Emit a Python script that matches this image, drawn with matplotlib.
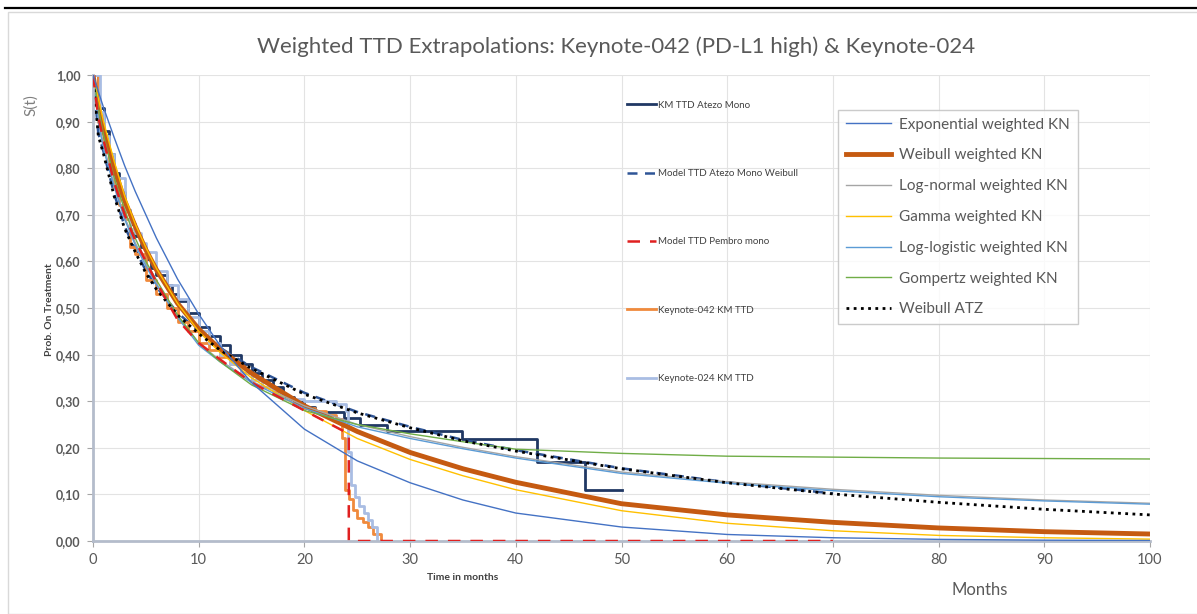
import matplotlib.pyplot as plt
from matplotlib.lines import Line2D
from matplotlib.patches import Rectangle

# Data
months = [0, 0.5, 1, 2, 3, 4, 5, 6, 8, 10, 12, 15, 20, 25, 30, 35, 40, 50, 60, 70, 80, 90, 100]

exponential_kn = [1.0, 0.965, 0.93, 0.866, 0.805, 0.75, 0.70, 0.65, 0.562, 0.487, 0.42, 0.34, 0.24,
                  0.172, 0.125, 0.088, 0.06, 0.03, 0.014, 0.007, 0.0035, 0.0018, 0.001]
weibull_kn = [1.0, 0.93, 0.88, 0.80, 0.73, 0.675, 0.625, 0.582, 0.51, 0.455, 0.412, 0.36, 0.29,
              0.235, 0.19, 0.155, 0.126, 0.08, 0.056, 0.04, 0.028, 0.02, 0.015]
lognormal_kn = [1.0, 0.91, 0.85, 0.765, 0.695, 0.64, 0.595, 0.553, 0.483, 0.425, 0.388, 0.343, 0.29,
                0.25, 0.224, 0.201, 0.181, 0.148, 0.127, 0.111, 0.098, 0.088, 0.081]
gamma_kn = [1.0, 0.95, 0.90, 0.815, 0.74, 0.68, 0.63, 0.585, 0.51, 0.45, 0.405, 0.35, 0.28,
            0.22, 0.175, 0.14, 0.11, 0.065, 0.038, 0.022, 0.012, 0.007, 0.004]
loglogistic_kn = [1.0, 0.90, 0.84, 0.76, 0.69, 0.635, 0.59, 0.55, 0.48, 0.42, 0.385, 0.34, 0.285,
                  0.245, 0.22, 0.198, 0.178, 0.145, 0.124, 0.108, 0.095, 0.086, 0.079]
gompertz_kn = [1.0, 0.93, 0.87, 0.78, 0.71, 0.65, 0.60, 0.56, 0.485, 0.425, 0.385, 0.335, 0.28,
               0.25, 0.23, 0.213, 0.197, 0.188, 0.182, 0.18, 0.178, 0.177, 0.176]
weibull_atz = [1.0, 0.87, 0.83, 0.74, 0.67, 0.62, 0.575, 0.54, 0.485, 0.445, 0.41, 0.37, 0.315,
               0.275, 0.243, 0.215, 0.193, 0.155, 0.125, 0.101, 0.083, 0.068, 0.056]

# second chart (model curves only run to 70 months)
model_months = [0, 0.5, 1, 2, 3, 4, 5, 6, 8, 10, 12, 15, 20, 25, 30, 35, 40, 50, 60, 70]
model_atezo_weibull = [1.0, 0.875, 0.835, 0.745, 0.675, 0.625, 0.58, 0.545, 0.49, 0.45, 0.415, 0.373,
                       0.318, 0.277, 0.245, 0.217, 0.195, 0.156, 0.126, 0.102]

pembro_months = [0, 0.5, 1, 2, 3, 4, 5, 6, 8, 10, 12, 15, 20, 24.2, 24.2, 30, 40, 50, 60, 70]
model_pembro = [1.0, 0.91, 0.86, 0.77, 0.70, 0.645, 0.60, 0.555, 0.475, 0.425, 0.39, 0.34, 0.28,
                0.23, 0.0, 0.0, 0.0, 0.0, 0.0, 0.0]

km_atezo_t = [0, 0.5, 1, 1.5, 2, 2.5, 3, 3.5, 4, 4.5, 5, 5.5, 6, 7, 7.5, 8, 9, 10, 11, 12, 13, 14,
              15, 16, 17, 18, 19, 20, 21, 23.7, 25.3, 27.8, 34.9, 42, 46.5, 50]
km_atezo_s = [1.0, 0.93, 0.88, 0.83, 0.79, 0.75, 0.71, 0.68, 0.655, 0.63, 0.605, 0.585, 0.57, 0.55,
              0.53, 0.515, 0.49, 0.46, 0.44, 0.42, 0.40, 0.38, 0.36, 0.345, 0.33, 0.31, 0.298, 0.287,
              0.277, 0.264, 0.249, 0.237, 0.218, 0.17, 0.109, 0.109]

kn042_t = [0, 0.5, 1, 1.5, 2, 2.5, 3, 3.5, 4, 5, 6, 7, 8, 9, 10, 11, 12, 13, 14, 15, 16, 17, 18,
           19, 20, 21, 22, 23, 23.6, 23.8, 24.2, 24.6, 25, 25.5, 26, 26.5, 27.2]
kn042_s = [1.0, 0.90, 0.85, 0.80, 0.76, 0.72, 0.69, 0.63, 0.615, 0.56, 0.53, 0.50, 0.47, 0.45, 0.425,
           0.41, 0.395, 0.38, 0.36, 0.345, 0.33, 0.32, 0.305, 0.295, 0.285, 0.28, 0.27, 0.262, 0.22,
           0.11, 0.09, 0.066, 0.05, 0.04, 0.03, 0.015, 0.0]

kn024_t = [0, 0.7, 1, 1.5, 2, 3, 3.5, 4, 4.5, 5, 6, 7, 8, 9, 10, 11, 12, 13, 14, 15, 16, 17, 18,
           20, 22, 23, 23.9, 24.1, 24.4, 24.8, 25.2, 25.6, 26, 26.4, 26.9]
kn024_s = [1.0, 0.92, 0.87, 0.83, 0.78, 0.71, 0.67, 0.66, 0.64, 0.62, 0.58, 0.55, 0.52, 0.48, 0.45,
           0.425, 0.40, 0.38, 0.36, 0.345, 0.33, 0.315, 0.305, 0.30, 0.30, 0.295, 0.28, 0.19, 0.12,
           0.095, 0.075, 0.06, 0.045, 0.03, 0.0]

x_ticks = [0, 10, 20, 30, 40, 50, 60, 70, 80, 90, 100]
y_ticks = [0.0, 0.1, 0.2, 0.3, 0.4, 0.5, 0.6, 0.7, 0.8, 0.9, 1.0]

W, H = 1197, 614
plt.rcParams['font.family'] = ['Lato', 'DejaVu Sans']
fig = plt.figure(figsize=(W / 100, H / 100), dpi=100)


def fx(px):
    return px / W


def fy(py):
    return 1 - py / H


# outer frame + top rule
fig.add_artist(Line2D([fx(5), 1], [fy(8), fy(8)], color='black', lw=1.6))
fig.add_artist(Rectangle((fx(8), 0), 1, fy(12), fill=False, ec='#D9D9D9', lw=1))

ax = fig.add_axes([fx(93), fy(541), fx(1150) - fx(93), fy(75) - fy(541)])
ax.set_xlim(0, 100)
ax.set_ylim(0, 1)
ax.set_xticks(x_ticks)
ax.set_yticks(y_ticks)
ax.set_xticklabels([str(t) for t in x_ticks], color='#595959', fontsize=10.5)
ax.set_yticklabels([f'{v:.2f}'.replace('.', ',') for v in y_ticks], color='#595959',
                   fontsize=9, fontweight='bold')
ax.tick_params(length=4, color='#A6A6A6', pad=5)
ax.grid(color='#E3E3E3', lw=0.8)
ax.set_axisbelow(True)
for s in ['top', 'right']:
    ax.spines[s].set_visible(False)
for s in ['left', 'bottom']:
    ax.spines[s].set_color('#B4BCCB')
    ax.spines[s].set_linewidth(2)

# second chart series
l_km, = ax.step(km_atezo_t, km_atezo_s, where='post', color='#203864', lw=2)
l_mw, = ax.plot(model_months, model_atezo_weibull, color='#2F5597', lw=1.8, ls=(0, (4, 3)))
l_mp, = ax.plot(pembro_months, model_pembro, color='#E02020', lw=1.8, ls=(0, (5, 4)), zorder=3)
l_042, = ax.step(kn042_t, kn042_s, where='post', color='#F08A3C', lw=2)
l_024, = ax.step(kn024_t, kn024_s, where='post', color='#A9BDE3', lw=2)

# weighted extrapolations
l_exp, = ax.plot(months, exponential_kn, color='#4472C4', lw=1, zorder=3)
l_wei, = ax.plot(months, weibull_kn, color='#C55A11', lw=3.5)
l_ln, = ax.plot(months, lognormal_kn, color='#A5A5A5', lw=1)
l_gam, = ax.plot(months, gamma_kn, color='#FFC000', lw=1)
l_ll, = ax.plot(months, loglogistic_kn, color='#5B9BD5', lw=1)
l_gom, = ax.plot(months, gompertz_kn, color='#70AD47', lw=1)
l_atz, = ax.plot(months, weibull_atz, color='black', lw=2, ls=(0, (1, 1.6)))

leg1 = ax.legend([l_km, l_mw, l_mp, l_042, l_024],
                 ['KM TTD Atezo Mono', 'Model TTD Atezo Mono Weibull', 'Model TTD Pembro mono',
                  'Keynote-042 KM TTD', 'Keynote-024 KM TTD'],
                 loc='upper left', bbox_to_anchor=(fx(618), fy(92)), bbox_transform=fig.transFigure,
                 frameon=False, fontsize=7, labelspacing=6.1, handlelength=3.0, handletextpad=0.2,
                 labelcolor='#404040')
ax.add_artist(leg1)

leg2 = ax.legend([l_exp, l_wei, l_ln, l_gam, l_ll, l_gom, l_atz],
                 ['Exponential weighted KN', 'Weibull weighted KN', 'Log-normal weighted KN',
                  'Gamma weighted KN', 'Log-logistic weighted KN', 'Gompertz weighted KN',
                  'Weibull ATZ'],
                 loc='upper left', bbox_to_anchor=(fx(838), fy(110)), bbox_transform=fig.transFigure,
                 borderaxespad=0, fontsize=11, labelspacing=1.1, handlelength=3.0, handletextpad=0.5,
                 fancybox=False, edgecolor='#BFBFBF', labelcolor='#595959', borderpad=0.5)
leg2.get_frame().set_linewidth(1)

# titles and axis texts
fig.text(fx(616), fy(47), 'Weighted TTD Extrapolations: Keynote-042 (PD-L1 high) & Keynote-024',
         ha='center', va='center', fontsize=16, color='#595959')
fig.text(fx(31), fy(105), 'S(t)', rotation=90, ha='center', va='center', fontsize=11, color='#7F7F7F')
fig.text(fx(50), fy(310), 'Prob. On Treatment', rotation=90, ha='center', va='center',
         fontsize=7.5, fontweight='bold', color='#404040')
fig.text(fx(463), fy(577), 'Time in months', ha='center', va='center', fontsize=7.5,
         fontweight='bold', color='#404040')
fig.text(fx(980), fy(590), 'Months', ha='center', va='center', fontsize=12, color='#595959')

fig.savefig('out.png', dpi=100)
